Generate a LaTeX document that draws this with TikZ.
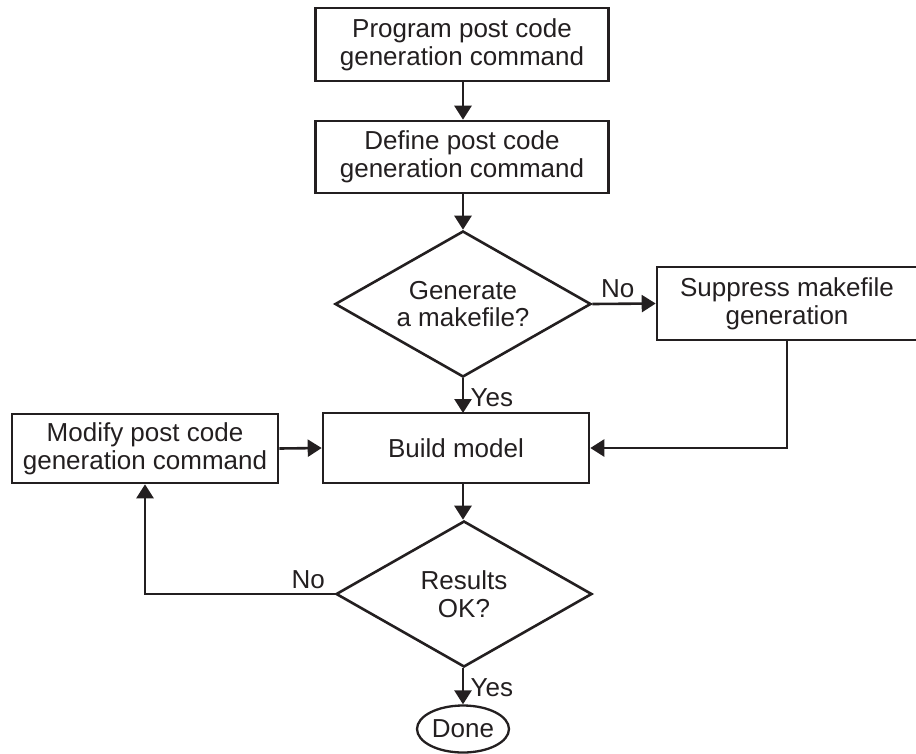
\documentclass[tikz,border=0pt]{standalone}
\usepackage{fontspec}
\setmainfont{Liberation Sans}
\usetikzlibrary{shapes.geometric,arrows.meta}
\definecolor{ink}{HTML}{231F20}
\begin{document}
\begin{tikzpicture}[x=1pt,y=-1pt,
  every node/.style={text=ink,font=\fontsize{26}{27.7}\selectfont,align=center},
  box/.style={draw=ink,line width=2.6pt,rectangle,inner sep=0pt},
  decision/.style={draw=ink,line width=2.6pt,diamond,shape aspect=1.75,inner sep=0pt,minimum width=256pt,minimum height=146pt},
  term/.style={draw=ink,line width=2.3pt,ellipse,inner sep=0pt,minimum width=92pt,minimum height=47pt},
  conn/.style={draw=ink,line width=2.6pt,-{Triangle[length=14pt,width=17pt]}},
  lbl/.style={font=\fontsize{26}{27.7}\selectfont}]
\useasboundingbox (0,0) rectangle (916,753);
\node[box,minimum width=293pt,minimum height=73pt] (b1) at (462,44.5) {Program post code\\generation command};
\node[box,minimum width=293pt,minimum height=72pt] (b2) at (462,157) {Define post code\\generation command};
\node[decision] (d1) at (463,304) {Generate\\a makefile?};
\node[box,minimum width=260pt,minimum height=73pt] (sup) at (787,303.5) {Suppress makefile\\generation};
\node[box,minimum width=266pt,minimum height=70pt] (build) at (456,448) {Build model};
\node[box,minimum width=266pt,minimum height=69pt] (mod) at (145,448.5) {Modify post code\\generation command};
\node[decision] (d2) at (464,594) {Results\\OK?};
\node[term] (done) at (463,729) {Done};
\coordinate (bin) at (463,413);
\coordinate (bout) at (463,483);
\draw[conn] (b1.south -| d1.north) -- (b2.north -| d1.north);
\draw[conn] (b2.south -| d1.north) -- (d1.north);
\draw[conn] (d1.east) -- node[lbl,above=1pt,pos=0.4] (no1) {No} (sup.west);
\draw[conn] (d1.south) -- node[lbl,right=3pt,pos=0.55] (yes1) {Yes} (bin);
\draw[conn] (sup.south) |- (build.east);
\draw[conn] (mod.east) -- (build.west);
\draw[conn] (bout) -- (d2.north -| bout);
\draw[conn] (d2.west) -| node[lbl,above=1pt,pos=0.07] (no2) {No} (mod.south);
\draw[conn] (d2.south -| done.north) -- node[lbl,right=3pt,pos=0.55] (yes2) {Yes} (done.north);
\end{tikzpicture}
\end{document}
